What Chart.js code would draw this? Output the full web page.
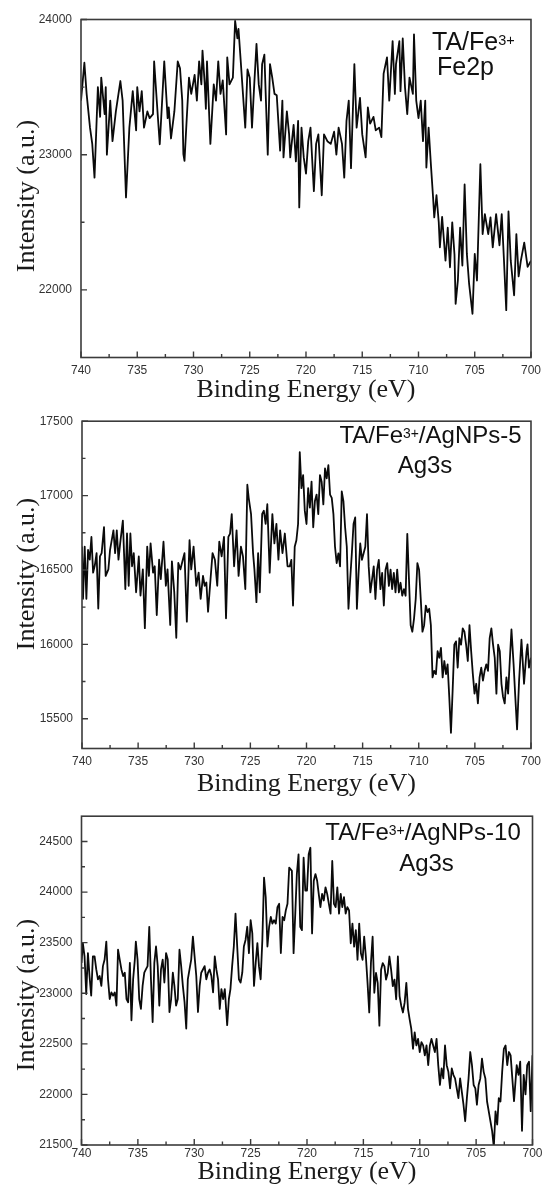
<!DOCTYPE html>
<html>
<head>
<meta charset="utf-8">
<title>XPS spectra</title>
<script src="https://cdn.jsdelivr.net/npm/chart.js@4.4.1/dist/chart.umd.min.js"></script>
<style>
  html, body { margin: 0; padding: 0; background: #fff; }
  #wrap { position: relative; width: 547px; height: 1194px; overflow: hidden; }
  .panel { position: absolute; left: 0; width: 547px; }
  .panel canvas { display: block; }
  .note {
    position: absolute; white-space: nowrap; color: #111;
    font-family: "Liberation Sans", Arial, sans-serif;
  }
  .note .sup { font-size: 0.58em; vertical-align: 0.34em; line-height: 0; }
  .n25 { font-size: 25px; line-height: 25px; }
  .n24 { font-size: 24px; line-height: 24px; }
  .mid { transform: translateX(-50%); }
</style>
</head>
<body>
<div id="wrap">
  <div class="panel" style="top:0px;height:405px"><canvas id="c1" width="547" height="405"></canvas></div>
  <div class="panel" style="top:405px;height:395px"><canvas id="c2" width="547" height="395"></canvas></div>
  <div class="panel" style="top:800px;height:394px"><canvas id="c3" width="547" height="394"></canvas></div>

  <div class="note n25" style="left:432px;top:28.8px">TA/Fe<span class="sup">3+</span></div>
  <div class="note n25" style="left:437px;top:53.8px">Fe2p</div>

  <div class="note n24 mid" style="left:430.5px;top:423px">TA/Fe<span class="sup">3+</span>/AgNPs-5</div>
  <div class="note n24 mid" style="left:425px;top:453px">Ag3s</div>

  <div class="note n24 mid" style="left:423px;top:819.7px">TA/Fe<span class="sup">3+</span>/AgNPs-10</div>
  <div class="note n24 mid" style="left:426.5px;top:851.4px">Ag3s</div>
</div>

<script>
// Binding-energy axis ticks (eV)
const energyTicks = [740, 735, 730, 725, 720, 715, 710, 705, 700];
const energyMinorTicks = [737.5, 732.5, 727.5, 722.5, 717.5, 712.5, 707.5, 702.5];

// Intensity axis ticks for each spectrum
const fe2pTicks = [24000, 23000, 22000];
const fe2pMinorTicks = [23500, 22500];
const ag5Ticks = [17500, 17000, 16500, 16000, 15500];
const ag5MinorTicks = [17250, 16750, 16250, 15750];
const ag10Ticks = [24500, 24000, 23500, 23000, 22500, 22000, 21500];
const ag10MinorTicks = [24250, 23750, 23250, 22750, 22250, 21750];

// TA/Fe3+ , Fe2p region
const fe2pEnergy = [
  740.0,739.7,739.5,739.2,739.0,738.8,738.5,738.3,738.2,737.9,
  737.8,737.7,737.4,737.2,736.9,736.5,736.3,736.0,735.7,735.4,
  735.1,735.0,734.8,734.6,734.4,734.1,733.9,733.6,733.5,733.2,
  733.0,732.8,732.6,732.3,732.2,732.0,731.7,731.4,731.2,731.0,
  730.9,730.8,730.6,730.4,730.2,729.9,729.7,729.5,729.3,729.2,
  729.0,728.9,728.8,728.5,728.2,728.0,727.8,727.6,727.4,727.1,
  727.0,726.8,726.5,726.3,726.1,726.0,725.8,725.4,725.2,725.0,
  724.8,724.6,724.4,724.2,724.0,723.9,723.7,723.4,723.2,723.0,
  722.8,722.6,722.3,722.1,722.0,721.7,721.5,721.4,721.1,720.9,
  720.7,720.6,720.4,720.2,720.0,719.8,719.6,719.3,719.1,718.9,
  718.6,718.4,718.1,717.8,717.5,717.3,717.1,716.8,716.6,716.4,
  716.2,716.0,715.7,715.5,715.2,715.0,714.7,714.5,714.3,714.0,
  713.8,713.5,713.3,713.1,712.8,712.6,712.3,712.1,712.0,711.7,
  711.6,711.4,711.2,711.0,710.8,710.5,710.4,710.2,710.0,709.8,
  709.6,709.4,709.3,709.1,708.9,708.7,708.6,708.4,708.2,708.1,
  707.9,707.6,707.4,707.2,707.0,706.8,706.7,706.5,706.3,706.1,
  705.9,705.7,705.5,705.2,705.0,704.8,704.5,704.3,704.1,703.8,
  703.6,703.4,703.1,702.8,702.6,702.4,702.2,702.0,701.8,701.5,
  701.3,701.1,700.9,700.6,700.3,700.0
];
const fe2pIntensity = [
  23400,23680,23450,23200,23080,22830,23500,23280,23570,23300,
  23500,23000,23400,23100,23320,23545,23400,22684,23200,23470,
  23180,23500,23320,23470,23200,23320,23270,23300,23690,23320,
  23077,23380,23690,23270,23350,23120,23320,23690,23640,23400,
  23004,22954,23270,23570,23450,23590,23400,23690,23520,23770,
  23520,23340,23690,23080,23520,23400,23690,23450,23550,23150,
  23720,23520,23570,23990,23860,23930,23690,23200,23630,23570,
  23200,23520,23820,23520,23400,23670,23740,23000,23670,23570,
  23450,23440,23030,23400,22980,23320,23150,22980,23220,22950,
  23250,22610,23200,22980,22860,23100,23200,22730,23080,23150,
  22700,23150,23100,23080,23170,23000,23200,23080,22830,23250,
  23400,22900,23670,23200,23420,23150,22980,23350,23230,23280,
  23180,23200,23130,23600,23720,23400,23840,23450,23670,23840,
  23470,23860,23500,23300,23570,23450,23890,23400,23270,23400,
  23100,23400,22905,23200,22930,22680,22536,22700,22500,22315,
  22540,22216,22460,22167,22500,22260,21897,22070,22460,22180,
  22780,22266,22044,21823,22266,22069,22930,22413,22560,22413,
  22536,22315,22560,22330,22560,22216,21850,22580,22216,21960,
  22413,22100,22216,22350,22170,22216
];

// TA/Fe3+/AgNPs-5 , Ag3s region
const ag5Energy = [
  740.00,739.91,739.76,739.61,739.46,739.31,739.16,739.01,738.86,738.70,
  738.55,738.40,738.25,738.04,737.89,737.65,737.50,737.20,737.05,736.90,
  736.75,736.60,736.36,736.14,735.99,735.84,735.69,735.54,735.39,735.18,
  734.94,734.79,734.58,734.40,734.19,734.04,733.89,733.67,733.52,733.34,
  733.13,732.98,732.74,732.53,732.38,732.14,731.99,731.78,731.60,731.42,
  731.23,731.02,730.87,730.66,730.42,730.27,730.06,729.82,729.61,729.43,
  729.22,729.07,728.92,728.77,728.55,728.37,728.16,727.95,727.77,727.56,
  727.35,727.17,726.96,726.81,726.66,726.45,726.23,726.05,725.84,725.66,
  725.45,725.27,725.15,724.94,724.76,724.64,724.46,724.31,724.16,723.95,
  723.80,723.64,723.49,723.28,723.04,722.86,722.68,722.50,722.35,722.14,
  721.93,721.69,
  721.50,721.35,721.20,721.05,720.90,720.75,720.60,720.45,720.30,720.15,
  720.00,719.85,719.70,719.55,719.40,719.25,719.10,718.95,718.80,718.65,
  718.50,718.35,718.20,718.05,717.90,717.75,717.60,717.46,717.31,717.16,
  717.01,716.86,716.71,716.56,716.41,716.26,716.11,715.96,715.81,715.66,
  715.51,715.36,715.21,715.06,714.91,714.76,714.61,714.46,714.31,714.16,
  714.01,713.86,713.71,713.56,713.41,713.26,713.11,712.96,712.81,712.66,
  712.51,712.37,712.22,712.07,711.92,711.77,711.62,711.47,711.32,711.17,
  711.02,710.87,710.72,710.57,710.42,710.27,710.12,709.97,709.82,709.67,
  709.52,709.37,709.22,709.07,708.92,708.77,708.62,708.47,708.32,708.17,
  708.02,707.87,707.72,707.57,707.43,707.28,707.13,706.98,706.83,706.68,
  706.53,706.38,706.23,706.08,705.93,705.78,705.63,705.48,705.33,705.18,
  705.03,704.88,704.73,704.58,704.43,704.28,704.13,703.98,703.83,703.68,
  703.53,703.38,703.23,703.08,702.93,702.78,702.63,702.49,702.34,702.19,
  702.04,701.89,
  701.74,701.55,701.40,701.24,701.06,700.85,700.62,700.40,700.31,700.18,
  700.00
];
const ag5Intensity = [
  16657,16306,16657,16306,16635,16569,16722,16482,16530,16613,
  16241,16591,16613,16788,16460,16504,16635,16766,16613,16766,
  16569,16679,16832,16372,16745,16394,16745,16525,16613,16350,
  16591,16328,16504,16109,16657,16460,16679,16482,16525,16197,
  16569,16438,16690,16394,16504,16131,16558,16350,16044,16547,
  16504,16569,16613,16153,16700,16504,16657,16394,16482,16306,
  16460,16394,16416,16219,16438,16613,16569,16394,16690,16591,
  16722,16175,16722,16745,16876,16525,16766,16460,16657,16591,
  16372,17073,16985,16876,16613,16504,16284,16613,16350,16876,
  16898,16810,16942,16482,16876,16679,16810,16569,16766,16613,
  16745,16525,
  16524,16568,16261,16656,16700,16809,17292,17050,17138,16897,
  16809,17050,16919,17094,16787,16963,17007,16875,17138,17094,
  16941,17182,17116,17204,17007,16985,16875,16656,16546,16612,
  16524,17028,16963,16787,16656,16239,16436,16612,16809,16853,
  16239,16480,16678,16568,16612,16656,16875,16524,16349,16436,
  16524,16305,16502,16568,16371,16480,16261,16502,16546,16393,
  16502,16371,16480,16349,16502,16349,16414,16327,16371,16327,
  16743,16436,16129,16085,16173,16305,16546,16502,16305,16085,
  16129,16261,16217,16239,16129,15778,15822,15800,15954,15910,
  15976,15778,15888,15800,15866,15647,15406,15691,15998,16020,
  15844,16042,15998,16107,16085,15998,15888,16129,15954,15800,
  15669,15735,15603,15778,15844,15757,15822,15866,15822,16042,
  16107,15998,15910,15669,15998,15954,15735,15647,15603,15778,
  15669,15888,
  16100,15866,15650,15428,15757,16031,15735,15950,16000,15844,
  15910
];

// TA/Fe3+/AgNPs-10 , Ag3s region
const ag10Energy = [
  740.00,739.88,739.73,739.58,739.43,739.29,739.14,738.99,738.84,738.69,
  738.54,738.39,738.24,738.10,737.95,737.80,737.65,737.50,737.35,737.20,
  737.05,736.90,736.76,736.61,736.46,736.31,736.16,736.01,735.86,735.71,
  735.57,735.42,735.27,735.18,735.03,734.88,734.73,734.58,734.43,734.29,
  734.14,733.99,733.84,733.69,733.54,733.39,733.24,733.10,732.95,732.80,
  732.65,732.50,732.35,732.20,732.05,731.90,731.76,731.61,731.46,731.31,
  731.16,731.01,730.86,730.71,730.57,730.42,730.27,730.12,729.97,729.82,
  729.67,729.52,729.38,729.23,729.08,728.93,728.78,728.63,728.48,728.33,
  728.18,728.04,727.89,727.74,727.59,727.44,727.29,727.08,726.93,726.79,
  726.64,726.49,726.34,726.19,726.04,725.89,725.74,725.60,725.45,725.30,
  725.15,725.00,724.85,724.70,724.55,724.40,724.26,724.11,723.96,723.81,
  723.66,723.51,723.36,723.21,723.07,722.92,722.77,722.62,722.47,722.32,
  722.17,722.02,721.88,721.73,721.58,
  721.34,721.19,721.04,720.90,720.75,720.60,720.45,720.30,720.15,720.00,
  719.85,719.70,719.55,719.40,719.25,719.10,718.96,718.81,718.66,718.51,
  718.36,718.21,718.06,717.91,717.76,717.61,717.46,717.31,717.16,717.01,
  716.87,716.72,716.57,716.42,716.27,716.12,715.97,715.82,715.67,715.52,
  715.37,715.22,715.07,714.93,714.78,714.63,714.48,714.33,714.18,714.03,
  713.88,713.73,713.58,713.43,713.28,713.13,712.99,712.84,712.69,712.54,
  712.39,712.24,712.09,711.94,711.79,711.64,711.49,711.34,711.19,711.04,
  710.90,710.75,710.60,710.45,710.30,710.15,710.00,709.85,709.70,709.55,
  709.40,709.25,709.10,708.96,708.81,708.66,708.51,708.36,708.21,708.06,
  707.91,707.76,707.61,707.46,707.31,707.16,707.01,706.87,706.72,706.57,
  706.42,706.27,706.12,705.97,705.82,705.67,705.52,705.37,705.22,705.07,
  704.93,704.78,704.63,704.48,704.33,704.18,704.03,703.88,703.73,703.58,
  703.43,703.28,703.13,702.99,702.84,702.69,702.54,702.39,702.24,702.09,
  701.94,701.79,
  701.64,701.40,701.24,701.09,700.93,700.78,700.62,700.47,700.31,700.16,
  700.00
];
const ag10Intensity = [
  23300,23495,23365,22992,23397,23170,22976,23365,23365,23235,
  23138,23170,23073,23268,23333,23511,23138,22943,23008,22976,
  23008,22878,23430,23333,23235,23170,23203,22943,22911,23300,
  22733,23138,23333,23511,23333,22943,22846,23073,23203,23235,
  23268,23657,23138,22716,23300,23462,23268,22878,23235,23333,
  23106,23397,23333,22814,22943,23203,23073,22878,22943,23430,
  23268,23073,22911,22651,23138,23235,23333,23560,23365,23170,
  22814,23073,23203,23235,23268,23138,23203,23235,23170,23008,
  23365,23235,23138,22846,23041,22943,23041,22684,22943,23041,
  23268,23462,23787,23462,23138,23106,23203,23462,23527,23657,
  23397,23722,23592,23073,23300,23495,23268,23138,23527,24143,
  23949,23462,23657,23754,23689,23722,23689,23851,23884,23397,
  23754,23722,23819,23884,24241,
  24210,23396,23787,24178,24373,23656,23624,24340,24015,24015,
  24373,24438,23591,24112,24178,24112,23982,23852,23982,23917,
  24047,23982,23884,23787,24308,23884,23852,24047,23787,23982,
  23852,23950,23787,23852,23819,23494,23689,23461,23624,23331,
  23689,23396,23331,23559,23363,23103,22810,23298,23559,23005,
  23200,23103,22679,23233,23298,23266,23135,23200,23363,23233,
  23070,23135,22940,23363,22972,22875,22810,22907,23103,22842,
  22744,22647,22451,22614,22484,22549,22419,22516,22484,22386,
  22484,22289,22484,22549,22484,22419,22549,22289,22093,22256,
  22158,22484,22289,22223,22060,22256,22191,22158,22060,21963,
  22158,22028,21898,21735,21963,22158,22419,22289,22093,22060,
  21898,22093,22158,22354,22223,22158,21930,21833,21735,21637,
  21480,21833,21702,21963,21930,22223,22451,22484,22289,22419,
  22386,22158,
  21933,22290,22193,22323,21640,22193,22000,22290,22323,21835,
  22388
];

Chart.defaults.font.family = '"Liberation Sans", Arial, sans-serif';
const serifFamily = '"Liberation Serif", "Times New Roman", serif';

// Closed frame with inward major/minor ticks on the bottom and left edges,
// plus the rotated intensity caption beside the left axis
const frameTicks = {
  id: 'frameTicks',
  afterDatasetsDraw(chart, args, opts) {
    const { ctx, chartArea: a, scales: { x, y } } = chart;
    ctx.save();
    ctx.strokeStyle = '#3b3b3b';
    ctx.lineWidth = 1.4;
    ctx.beginPath();
    const seg = (x0, y0, x1, y1) => { ctx.moveTo(x0, y0); ctx.lineTo(x1, y1); };
    opts.xMajor.forEach(v => { const p = x.getPixelForValue(v); seg(p, a.bottom, p, a.bottom - 6); });
    opts.xMinor.forEach(v => { const p = x.getPixelForValue(v); seg(p, a.bottom, p, a.bottom - 3.5); });
    opts.yMajor.forEach(v => { const p = y.getPixelForValue(v); seg(a.left, p, a.left + 6, p); });
    opts.yMinor.forEach(v => { const p = y.getPixelForValue(v); seg(a.left, p, a.left + 3.5, p); });
    ctx.stroke();
    ctx.lineWidth = 1.6;
    ctx.strokeRect(a.left, a.top, a.right - a.left, a.bottom - a.top);

    ctx.translate(opts.captionX, opts.captionY);
    ctx.rotate(-Math.PI / 2);
    ctx.fillStyle = '#1a1a1a';
    ctx.font = '26px ' + serifFamily;
    ctx.textAlign = 'center';
    ctx.textBaseline = 'middle';
    ctx.fillText(opts.caption, 0, 0);
    ctx.restore();
  }
};

function drawPanel(cfg) {
  const points = cfg.energy.map((e, i) => ({ x: e, y: cfg.intensity[i] }));
  return new Chart(document.getElementById(cfg.id), {
    type: 'line',
    data: {
      datasets: [{
        data: points,
        borderColor: '#0a0a0a',
        borderWidth: 1.8,
        borderJoinStyle: 'round',
        pointRadius: 0,
        tension: 0,
        fill: false
      }]
    },
    options: {
      responsive: false,
      animation: false,
      events: [],
      layout: { padding: cfg.padding },
      plugins: {
        legend: { display: false },
        tooltip: { enabled: false },
        frameTicks: {
          xMajor: energyTicks, xMinor: energyMinorTicks, yMajor: cfg.ticks, yMinor: cfg.minor,
          caption: 'Intensity (a.u.)', captionX: 27, captionY: cfg.captionY
        }
      },
      scales: {
        x: {
          type: 'linear',
          reverse: true,
          min: 700,
          max: 740,
          afterBuildTicks: s => { s.ticks = energyTicks.map(v => ({ value: v })); },
          afterFit: s => { s.height = cfg.xHeight; },
          grid: { display: false, drawTicks: false },
          border: { display: false },
          ticks: {
            autoSkip: false, maxRotation: 0, padding: cfg.xLabelPad,
            color: '#333', font: { size: 12 },
            callback: v => String(v)
          },
          title: {
            display: true, text: 'Binding Energy (eV)', color: '#1a1a1a',
            font: { family: serifFamily, size: 26, lineHeight: 1 },
            padding: { top: 0, bottom: 0 }
          }
        },
        y: {
          type: 'linear',
          min: cfg.yMin,
          max: cfg.yMax,
          afterBuildTicks: s => { s.ticks = cfg.ticks.map(v => ({ value: v })); },
          afterFit: s => { s.width = cfg.yWidth; },
          grid: { display: false, drawTicks: false },
          border: { display: false },
          ticks: {
            padding: 9, color: '#333', font: { size: 12 },
            callback: v => String(v)
          },
          title: { display: false }
        }
      }
    },
    plugins: [frameTicks]
  });
}

drawPanel({
  id: 'c1', energy: fe2pEnergy, intensity: fe2pIntensity,
  yMin: 21500, yMax: 24000, ticks: fe2pTicks, minor: fe2pMinorTicks,
  padding: { top: 19.5, right: 14.5, bottom: 2, left: 0 },
  xHeight: 45.5, xLabelPad: 6, yWidth: 81, captionY: 196
});
drawPanel({
  id: 'c2', energy: ag5Energy, intensity: ag5Intensity,
  yMin: 15300, yMax: 17500, ticks: ag5Ticks, minor: ag5MinorTicks,
  padding: { top: 10, right: 14.5, bottom: 3, left: 0 },
  xHeight: 48.5, xLabelPad: 6, yWidth: 82, captionY: 169
});
drawPanel({
  id: 'c3', energy: ag10Energy, intensity: ag10Intensity,
  yMin: 21500, yMax: 24750, ticks: ag10Ticks, minor: ag10MinorTicks,
  padding: { top: 11.7, right: 14.5, bottom: 9, left: 0 },
  xHeight: 40, xLabelPad: 1, yWidth: 81.5, captionY: 195
});
</script>
</body>
</html>
